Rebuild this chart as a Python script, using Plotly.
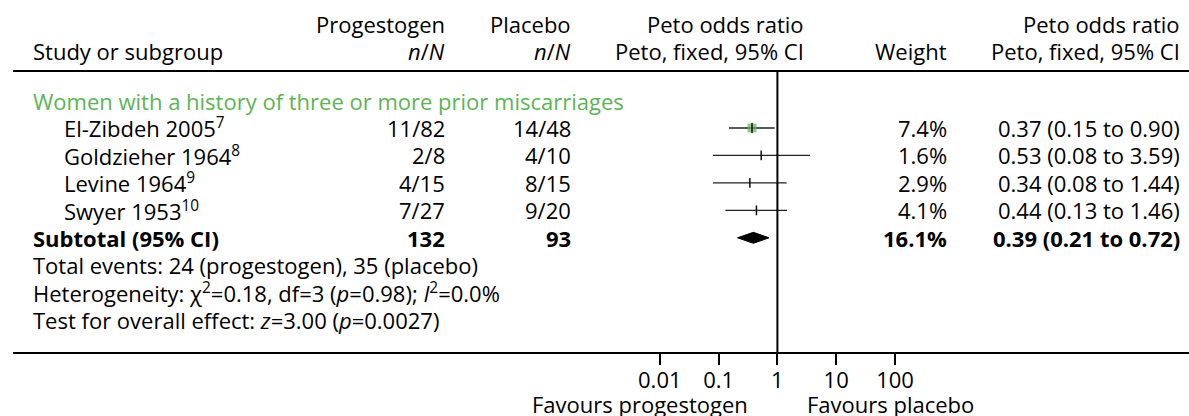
import plotly.graph_objects as go

# ---------------- data ----------------
studies = ["El-Zibdeh 2005", "Goldzieher 1964", "Levine 1964", "Swyer 1953"]
refs = ["7", "8", "9", "10"]
prog_nN = ["11/82", "2/8", "4/15", "7/27"]
plac_nN = ["14/48", "4/10", "8/15", "9/20"]
weights = [7.4, 1.6, 2.9, 4.1]
odds = [0.37, 0.53, 0.34, 0.44]
ci_lo = [0.15, 0.08, 0.08, 0.13]
ci_hi = [0.90, 3.59, 1.44, 1.46]

sub_prog_N = 132
sub_plac_N = 93
sub_weight = 16.1
sub_or = 0.39
sub_lo = 0.21
sub_hi = 0.72

group_title = "Women with a history of three or more prior miscarriages"
total_events = "Total events: 24 (progestogen), 35 (placebo)"
heterogeneity = "Heterogeneity: χ<sup>2</sup>=0.18, df=3 (<i>p</i>=0.98); <i>I</i><sup>2</sup>=0.0%"
overall = "Test for overall effect: <i>z</i>=3.00 (<i>p</i>=0.0027)"

tick_vals = [0.01, 0.1, 1, 10, 100]
tick_text = ["0.01", "0.1", "1", "10", "100"]

# ---------------- layout helpers ----------------
W, H = 1189, 416
L, R, T, B = 13, 0, 72, 352  # plot area in pixels
FONT = "Open Sans"
FS = 22
GREEN = "#5bb553"

def px(x):
    return (x - L) / (W - R - L)

def py(y):
    return (B - y) / (B - T)

row0 = 128
row_h = 27.45
rows = [row0 + i * row_h for i in range(len(studies))]
sub_y = row0 + len(studies) * row_h

fig = go.Figure()

# CI lines
xs, ys = [], []
for lo, hi, y in zip(ci_lo, ci_hi, rows):
    xs += [lo, hi, None]
    ys += [y, y, None]
fig.add_trace(go.Scatter(x=xs, y=ys, mode="lines",
                         line=dict(color="#222222", width=1.3),
                         hoverinfo="skip", showlegend=False))
# weight squares
fig.add_trace(go.Scatter(x=odds, y=rows, mode="markers",
                         marker=dict(symbol="square", color=GREEN,
                                     size=[9 * (w / max(weights)) ** 2 for w in weights],
                                     line=dict(width=0)),
                         hoverinfo="skip", showlegend=False))
# point ticks
fig.add_trace(go.Scatter(x=odds, y=rows, mode="markers",
                         marker=dict(symbol="line-ns", size=7,
                                     line=dict(color="#111111", width=1.5)),
                         hoverinfo="skip", showlegend=False))
# subtotal diamond
dh = 5.5
fig.add_trace(go.Scatter(x=[sub_lo, sub_or, sub_hi, sub_or, sub_lo],
                         y=[sub_y, sub_y - dh, sub_y, sub_y + dh, sub_y],
                         mode="lines", fill="toself", fillcolor="black",
                         line=dict(color="black", width=1),
                         hoverinfo="skip", showlegend=False))

# line of no effect
fig.add_shape(type="line", xref="x", yref="paper", x0=1, x1=1, y0=0, y1=1,
              line=dict(color="black", width=2))

ann = []

def text(x, y, s, anchor="left", bold=False, color="black"):
    if bold:
        s = "<b>" + s + "</b>"
    ann.append(dict(x=px(x), y=py(y), xref="paper", yref="paper", text=s,
                    showarrow=False, xanchor=anchor, yanchor="middle",
                    font=dict(family=FONT, size=FS, color=color)))

# headers
text(447, 24, "Progestogen", "right")
text(573, 24, "Placebo", "right")
text(806, 24, "Peto odds ratio", "right")
text(1182, 24, "Peto odds ratio", "right")
text(31, 51, "Study or subgroup")
text(447, 51, "<i>n</i>/<i>N</i>", "right")
text(573, 51, "<i>n</i>/<i>N</i>", "right")
text(806, 51, "Peto, fixed, 95% CI", "right")
text(949, 51, "Weight", "right")
text(1182, 51, "Peto, fixed, 95% CI", "right")

text(31, 101, group_title, color=GREEN)
for i, y in enumerate(rows):
    text(62, y, f"{studies[i]}<sup>{refs[i]}</sup>")
    text(447, y, prog_nN[i], "right")
    text(573, y, plac_nN[i], "right")
    text(949, y, f"{weights[i]:.1f}%", "right")
    text(1182, y, f"{odds[i]:.2f} ({ci_lo[i]:.2f} to {ci_hi[i]:.2f})", "right")

text(31, sub_y, "Subtotal (95% CI)", bold=True)
text(447, sub_y, str(sub_prog_N), "right", bold=True)
text(573, sub_y, str(sub_plac_N), "right", bold=True)
text(949, sub_y, f"{sub_weight:.1f}%", "right", bold=True)
text(1182, sub_y, f"{sub_or:.2f} ({sub_lo:.2f} to {sub_hi:.2f})", "right", bold=True)

text(31, sub_y + row_h, total_events)
text(31, sub_y + 2 * row_h, heterogeneity)
text(31, sub_y + 3 * row_h, overall)

text(750, 404, "Favours progestogen", "right")
text(805, 404, "Favours placebo", "left")

fig.update_layout(
    width=W, height=H,
    margin=dict(l=L, r=R, t=T, b=H - B, pad=0),
    paper_bgcolor="white", plot_bgcolor="white",
    font=dict(family=FONT, size=FS, color="black"),
    annotations=ann,
    xaxis=dict(type="log", range=[-13.0, 7.0], showgrid=False, zeroline=False,
               showline=True, linecolor="black", linewidth=2, mirror=True,
               tickmode="array", tickvals=tick_vals, ticktext=tick_text,
               ticks="outside", ticklen=11, tickwidth=2, tickcolor="black",
               ticklabelstandoff=-3,
               tickfont=dict(family=FONT, size=FS, color="black")),
    yaxis=dict(range=[B, T], visible=False, showgrid=False, zeroline=False),
)

fig.write_html("out.html", config={"displayModeBar": False},
               post_script="document.body.style.margin='0px';document.body.style.overflow='hidden';")
